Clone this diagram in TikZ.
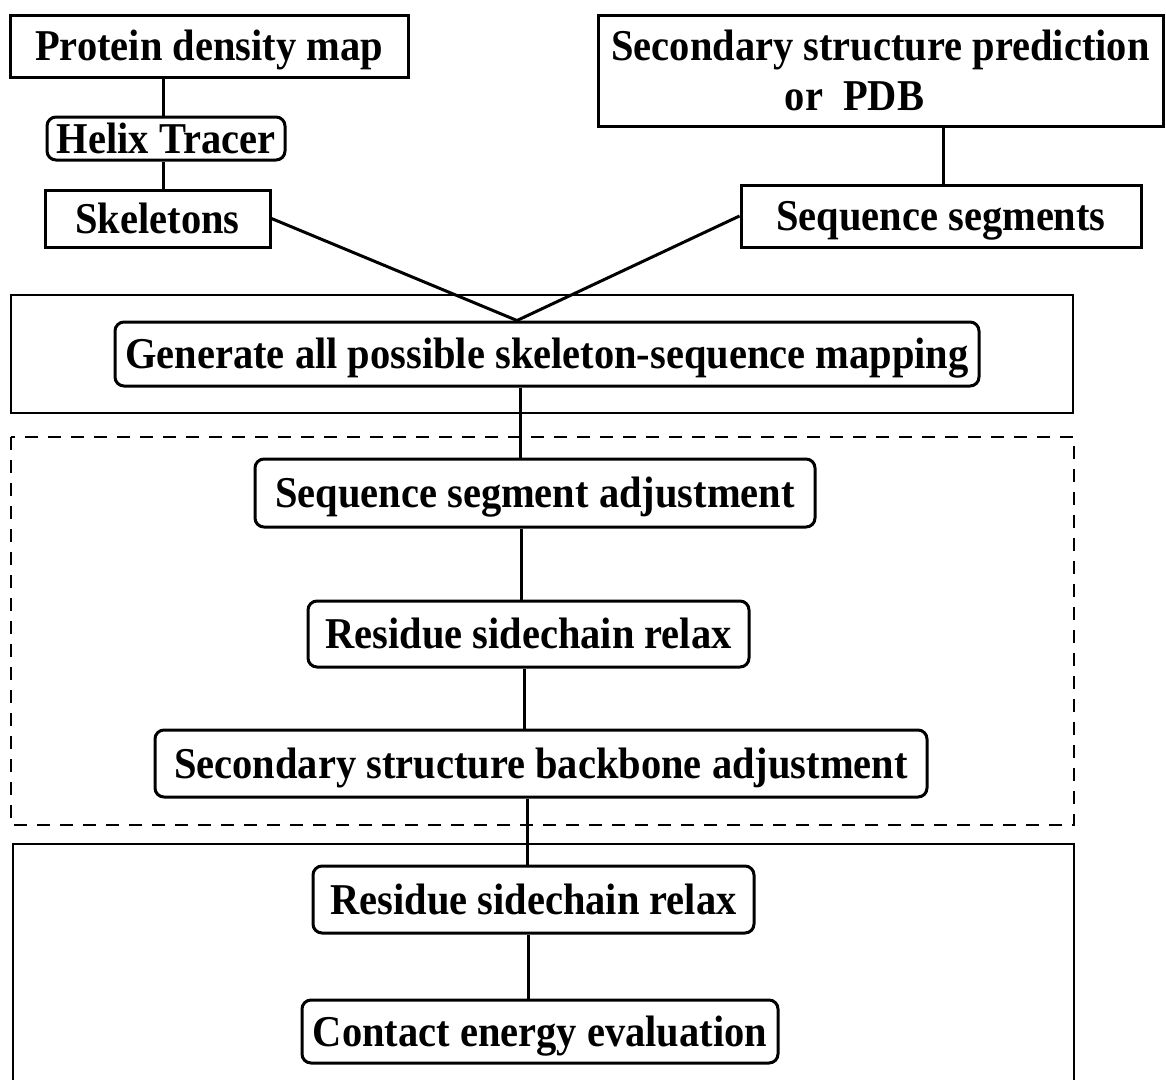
\documentclass[tikz,border=0pt]{standalone}
\usepackage{fontspec}
\setmainfont[FakeStretch=0.92]{Liberation Serif}
\begin{document}
\begin{tikzpicture}[x=1pt,y=-1pt,
  box/.style={draw, line width=3pt, inner sep=0pt, align=center,
    text height=29pt, text depth=0pt,
    font=\bfseries\fontsize{44}{44}\selectfont},
  rbox/.style={box, rounded corners=9pt},
  frame/.style={line width=2pt},
  dframe/.style={line width=2pt, dash pattern=on 13pt off 10pt},
  conn/.style={line width=3pt}]
\useasboundingbox (0,0) rectangle (1166,1079);
% containers
\draw[frame] (11,295) rectangle (1073,413);
\draw[dframe] (11,437) rectangle (1074,825);
\draw[frame] (13,1090) -- (13,844) -- (1074,844) -- (1074,1090);
% nodes
\node[box, minimum width=398pt, minimum height=62pt] (pdm) at (209,46) {Protein density map};
\node[rbox, minimum width=238pt, minimum height=43pt] (helix) at (166,138.5) {Helix Tracer};
\node[box, minimum width=225pt, minimum height=57pt] (skel) at (157.5,218.5) {Skeletons};
\node[box, minimum width=565pt, minimum height=111pt, text height=79pt, text depth=0pt,
  font=\bfseries\fontsize{44}{50}\selectfont] (ssp) at (880.5,70.5) {Secondary structure prediction\\\hspace*{-52pt}or\ \ PDB};
\node[box, minimum width=400pt, minimum height=62pt] (seqseg) at (941,216) {Sequence segments};
\node[rbox, minimum width=864pt, minimum height=64pt] (gen) at (547,354) {Generate all possible skeleton-sequence mapping};
\node[rbox, minimum width=560pt, minimum height=68pt] (ssa) at (535,493) {Sequence segment adjustment};
\node[rbox, minimum width=441pt, minimum height=66pt] (rsr1) at (528.5,634) {Residue sidechain relax};
\node[rbox, minimum width=772pt, minimum height=67pt] (ssba) at (541,763.5) {Secondary structure backbone adjustment};
\node[rbox, minimum width=441pt, minimum height=67pt] (rsr2) at (533.5,899.5) {Residue sidechain relax};
\node[rbox, minimum width=476pt, minimum height=63pt] (cee) at (540,1031.5) {Contact energy evaluation};
% connector guide coordinates
\coordinate (xa) at (163,0);
\coordinate (xb) at (943,0);
\coordinate (xm) at (517,0);
\coordinate (x1) at (520,0);
\coordinate (x2) at (521,0);
\coordinate (x3) at (524,0);
\coordinate (x4) at (527,0);
\coordinate (x5) at (528,0);
% connectors
\draw[conn] (pdm.south -| xa) -- (helix.north -| xa);
\draw[conn] (helix.south -| xa) -- (skel.north -| xa);
\draw[conn] (ssp.south -| xb) -- (seqseg.north -| xb);
\draw[conn] (skel.east) -- (gen.north -| xm);
\draw[conn] (seqseg.west) -- (gen.north -| xm);
\draw[conn] (gen.south -| x1) -- (ssa.north -| x1);
\draw[conn] (ssa.south -| x2) -- (rsr1.north -| x2);
\draw[conn] (rsr1.south -| x3) -- (ssba.north -| x3);
\draw[conn] (ssba.south -| x4) -- (rsr2.north -| x4);
\draw[conn] (rsr2.south -| x5) -- (cee.north -| x5);
\end{tikzpicture}
\end{document}
